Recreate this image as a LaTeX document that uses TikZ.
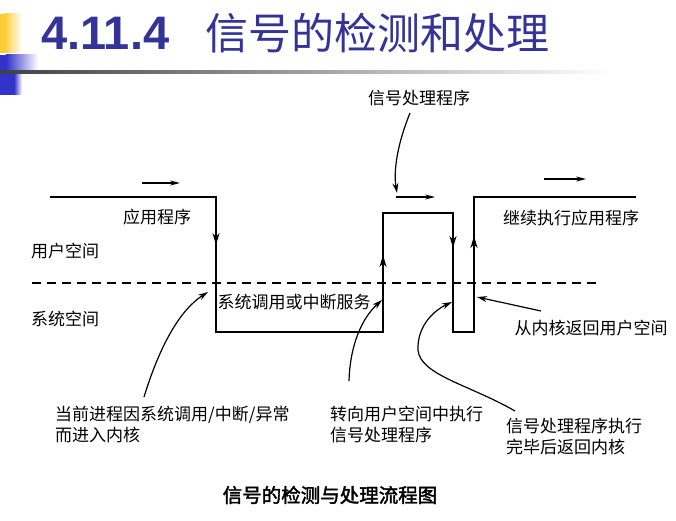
\documentclass[tikz,border=0pt]{standalone}
\usepackage{fontspec}
\setmainfont{Liberation Sans}
\newfontfamily\cjk{Noto Sans CJK SC}
\newfontfamily\cjkbold[FakeBold=2]{Noto Sans CJK SC}
\usetikzlibrary{arrows.meta}
\definecolor{titleblue}{RGB}{51,51,153}
\definecolor{decoyellow}{RGB}{255,204,51}
\definecolor{decoblue}{RGB}{51,51,204}
\definecolor{decogray}{RGB}{64,64,64}
\begin{document}
\begin{tikzpicture}[x=1pt,y=-1pt,
  lab/.style={font=\cjk\fontsize{17}{21}\selectfont, inner sep=0pt, align=left},
  mainline/.style={line width=1.8pt, line join=miter},
  midtip/.style={line width=1.8pt, -{Stealth[length=12pt,width=7pt]}},
  runtip/.style={line width=1.3pt, -{Stealth[length=10pt,width=5pt]}},
  callout/.style={line width=1.2pt, -{Stealth[length=10pt,width=6pt]}},
  spaceline/.style={line width=1.2pt, dash pattern=on 9pt off 6pt}]
\useasboundingbox (0,0) rectangle (676,521);
\fill[white] (0,0) rectangle (676,521);
% decoration
\fill[decoyellow] (0,14) rectangle (4,53);
\shade[left color=decoyellow, right color=white] (4,14) rectangle (22,53);
\fill[decoblue] (0,55) rectangle (6,71);
\shade[left color=decoblue, right color=white] (6,55) rectangle (38,71);
\fill[decoblue] (0,74) rectangle (14,95);
\shade[left color=decoblue, right color=white] (14,74) rectangle (22,95);
\shade[left color=decogray, right color=white] (0,71) rectangle (611,74);
% title
\node[anchor=base west, inner sep=0pt, text=titleblue, font=\fontsize{47}{50}\selectfont\bfseries] (tnum) at (41,50) {4.11.4};
\node[anchor=base west, inner sep=0pt, text=titleblue, font=\cjk\fontsize{43}{48}\selectfont] (ttext) at (205,50) {信号的检测和处理};
% main path corners
\coordinate (p0) at (50,197);
\coordinate (p1) at (216,197);
\coordinate (p2) at (216,332);
\coordinate (p3) at (383,332);
\coordinate (p4) at (383,213);
\coordinate (p5) at (453,213);
\coordinate (p6) at (453,332);
\coordinate (p7) at (474,332);
\coordinate (p8) at (474,197);
\coordinate (p9) at (636,197);
\draw[mainline] (p0) -- (p1) -- (p2) -- (p3) -- (p4) -- (p5) -- (p6) -- (p7) -- (p8) -- (p9);
% mid arrows on path
\coordinate (a1s) at (216,225); \coordinate (a1e) at (216,245);
\coordinate (a2s) at (383,275); \coordinate (a2e) at (383,255);
\coordinate (a3s) at (453,230); \coordinate (a3e) at (453,248);
\coordinate (a4s) at (474,255); \coordinate (a4e) at (474,236);
\draw[midtip] (a1s) -- (a1e);
\draw[midtip] (a2s) -- (a2e);
\draw[midtip] (a3s) -- (a3e);
\draw[midtip] (a4s) -- (a4e);
% dashed boundary
\coordinate (d0) at (32,283);
\coordinate (d1) at (600,283);
\draw[spaceline] (d0) -- (d1);
% direction arrows
\coordinate (r1s) at (142,183); \coordinate (r1e) at (180,183);
\coordinate (r2s) at (396,197); \coordinate (r2e) at (435,197);
\coordinate (r3s) at (544,179); \coordinate (r3e) at (586,179);
\draw[runtip] (r1s) -- (r1e);
\draw[runtip] (r2s) -- (r2e);
\draw[runtip] (r3s) -- (r3e);
% labels
\node[lab] (app) at (157,217) {应用程序};
\node[lab] (user) at (65,251) {用户空间};
\node[lab] (sys) at (65,319) {系统空间};
\node[lab] (svc) at (294,302) {系统调用或中断服务};
\node[lab] (hdl) at (419,98) {信号处理程序};
\node[lab] (cont) at (571,218) {继续执行应用程序};
\node[lab] (ret) at (591,328) {从内核返回用户空间};
\node[lab, anchor=west] (b1) at (55,424.5) {当前进程因系统调用/中断/异常\\而进入内核};
\node[lab, anchor=west] (b2) at (330,424.5) {转向用户空间中执行\\信号处理程序};
\node[lab, anchor=west] (b3) at (506,436.5) {信号处理程序执行\\完毕后返回内核};
\node[inner sep=0pt, font=\cjkbold\fontsize{19.5}{23}\selectfont] (cap) at (330,495) {信号的检测与处理流程图};
% callout arrows
\coordinate (c1s) at (144,397); \coordinate (c1e) at (208,292);
\coordinate (c2s) at (349,381); \coordinate (c2e) at (382,300);
\coordinate (c3s) at (515,411); \coordinate (c3m) at (418,350); \coordinate (c3e) at (452,302);
\coordinate (c4s) at (541,311); \coordinate (c4e) at (477,297);
\coordinate (c5s) at (410,113); \coordinate (c5e) at (397,193);
\draw[callout] (c1s) .. controls (160,345) and (180,310) .. (c1e);
\draw[callout] (c2s) .. controls (350,345) and (362,318) .. (c2e);
\draw[callout] (c3s) .. controls (470,385) and (420,375) .. (c3m) .. controls (417,325) and (435,310) .. (c3e);
\draw[callout] (c4s) -- (c4e);
\draw[callout] (c5s) .. controls (395,150) and (394,175) .. (c5e);
\end{tikzpicture}
\end{document}
